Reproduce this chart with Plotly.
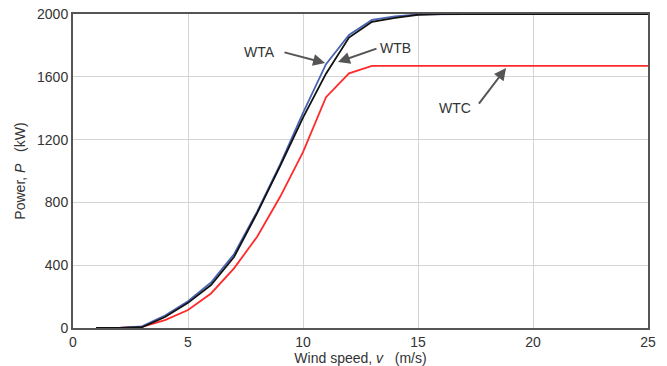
import plotly.graph_objects as go

wind_speed = list(range(1, 26))
wta_power = [0, 0, 10, 80, 170, 290, 470, 740, 1040, 1370, 1680, 1866, 1962, 1985, 1997] + [2000] * 10
wtb_power = [0, 0, 5, 70, 160, 274, 452, 730, 1030, 1340, 1620, 1850, 1950, 1975, 1995] + [2000] * 10
wtc_power = [0, 0, 8, 50, 115, 220, 380, 580, 834, 1120, 1470, 1622, 1669] + [1669] * 12

x_ticks = [0, 5, 10, 15, 20, 25]
y_ticks = [0, 400, 800, 1200, 1600, 2000]

fig = go.Figure()
fig.add_trace(go.Scatter(x=wind_speed, y=wtc_power, mode="lines", name="WTC",
                         line=dict(color="#ff2a2a", width=1.8)))
fig.add_trace(go.Scatter(x=wind_speed, y=wta_power, mode="lines", name="WTA",
                         line=dict(color="#4a64b4", width=1.8)))
fig.add_trace(go.Scatter(x=wind_speed, y=wtb_power, mode="lines", name="WTB",
                         line=dict(color="#111111", width=1.8)))

font_fam = "Liberation Sans, Arial, sans-serif"
tick_font = dict(family=font_fam, size=14, color="#333333")

fig.update_layout(
    width=667, height=366,
    margin=dict(l=73, r=19, t=14, b=38),
    paper_bgcolor="white", plot_bgcolor="white",
    showlegend=False,
    font=dict(family=font_fam, color="#333333"),
)
fig.update_xaxes(range=[0, 25], tickvals=x_ticks, ticks="", tickfont=tick_font,
                 showgrid=True, gridcolor="#d4d4d4", gridwidth=1,
                 showline=True, linecolor="#555555", linewidth=2, mirror=True,
                 zeroline=False, automargin=False,
                 title=dict(text="Wind speed, <i>v</i>   (m/s)", font=dict(family=font_fam, size=14, color="#333333"),
                            standoff=0))
fig.update_yaxes(range=[0, 2000], tickvals=y_ticks, ticks="", tickfont=tick_font,
                 showgrid=True, gridcolor="#d4d4d4", gridwidth=1,
                 showline=True, linecolor="#555555", linewidth=2, mirror=True,
                 zeroline=False, automargin=False,
                 title=dict(text="Power, <i>P</i>   (kW)", font=dict(family=font_fam, size=14, color="#333333"),
                            standoff=8))

arrow_color = "#555555"
arrows = [
    (10.96, 1688, 9.13, 1758),
    (11.52, 1694, 13.26, 1783),
    (18.83, 1656, 17.6, 1420),
]
for hx, hy, tx, ty in arrows:
    fig.add_annotation(x=hx, y=hy, ax=tx, ay=ty, xref="x", yref="y", axref="x", ayref="y",
                       text="", showarrow=True, arrowhead=2, arrowsize=1.2, arrowwidth=2,
                       arrowcolor=arrow_color)

labels = [("WTA", 8.13, 1758), ("WTB", 14.04, 1783), ("WTC", 16.6, 1401)]
for txt, lx, ly in labels:
    fig.add_annotation(x=lx, y=ly, xref="x", yref="y", text=txt, showarrow=False,
                       font=dict(family=font_fam, size=14, color="#333333"))

fig.write_html("out.html")
